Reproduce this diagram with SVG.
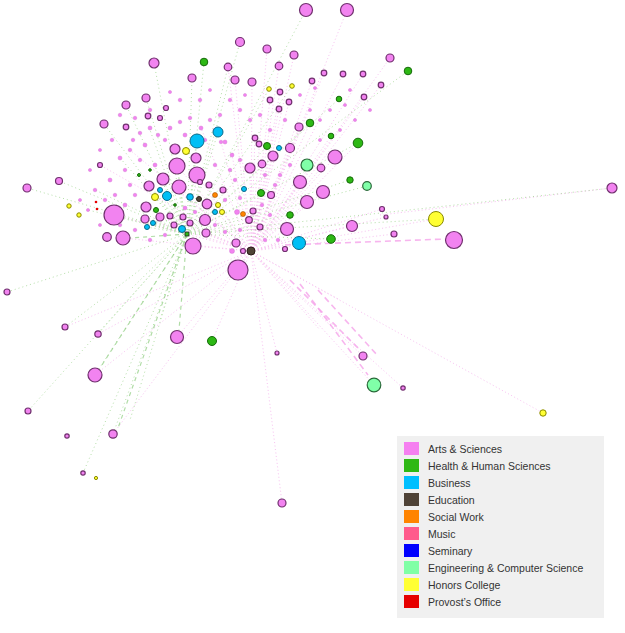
<svg xmlns="http://www.w3.org/2000/svg" width="625" height="633" viewBox="0 0 625 633">
<style>
.ep{stroke:#f49be9;stroke-width:1;stroke-dasharray:1 2.5;fill:none;opacity:0.6}
.epd{stroke:#f5a3ea;stroke-width:1.6;stroke-dasharray:6 4;fill:none;opacity:0.8}
.eg{stroke:#86cc72;stroke-width:1;stroke-dasharray:1 3;fill:none;opacity:0.6}
.egd{stroke:#7cc46a;stroke-width:1.2;stroke-dasharray:4 4;fill:none;opacity:0.6}
.a{fill:#f283f0;stroke:#70306e;stroke-width:1.2}
.t{fill:#f283f0;stroke:#d070d0;stroke-width:0.4}
.h{fill:#2db814;stroke:#166a0a;stroke-width:1}
.b{fill:#00bff5;stroke:#0a6a8a;stroke-width:1}
.e{fill:#4f4337;stroke:#2a2018;stroke-width:1}
.s{fill:#ff8400;stroke:#a05000;stroke-width:0.6}
.g{fill:#80ffa8;stroke:#2a6a3a;stroke-width:1.2}
.y{fill:#ffff33;stroke:#8a8a00;stroke-width:1}
.r{fill:#e60000}
.lt{font-family:"Liberation Sans",Arial,sans-serif;font-size:10.5px;fill:#333}
</style>
<rect width="625" height="633" fill="#fff"/>
<g id="connectors">
<g class="ep">
<line x1="251" y1="251" x2="436" y2="219"/><line x1="251" y1="251" x2="394" y2="234"/><line x1="251" y1="251" x2="386" y2="217"/><line x1="251" y1="251" x2="382" y2="209"/><line x1="251" y1="251" x2="352" y2="226"/><line x1="251" y1="251" x2="287" y2="229"/><line x1="251" y1="251" x2="307" y2="202"/><line x1="251" y1="251" x2="323" y2="192"/><line x1="251" y1="251" x2="300" y2="182"/><line x1="251" y1="251" x2="335" y2="157"/><line x1="251" y1="251" x2="321" y2="168"/><line x1="251" y1="251" x2="358" y2="143"/><line x1="251" y1="251" x2="331" y2="136"/><line x1="251" y1="251" x2="310" y2="123"/><line x1="251" y1="251" x2="299" y2="127"/><line x1="251" y1="251" x2="363" y2="74"/><line x1="251" y1="251" x2="343" y2="74"/><line x1="251" y1="251" x2="381" y2="85"/><line x1="251" y1="251" x2="390" y2="58"/><line x1="251" y1="251" x2="364" y2="97"/><line x1="251" y1="251" x2="312" y2="81"/><line x1="251" y1="251" x2="290" y2="148"/><line x1="251" y1="251" x2="273" y2="156"/><line x1="251" y1="251" x2="262" y2="164"/><line x1="251" y1="251" x2="250" y2="168"/><line x1="251" y1="251" x2="255" y2="138"/><line x1="251" y1="251" x2="279" y2="109"/><line x1="251" y1="251" x2="289" y2="102"/><line x1="380" y1="215" x2="612" y2="188"/><line x1="251" y1="251" x2="543" y2="413"/><line x1="251" y1="251" x2="403" y2="388"/><line x1="251" y1="251" x2="374" y2="385"/><line x1="251" y1="251" x2="363" y2="356"/><line x1="251" y1="251" x2="282" y2="503"/><line x1="251" y1="251" x2="277" y2="353"/><line x1="251" y1="251" x2="212" y2="341"/><line x1="251" y1="251" x2="95" y2="375"/><line x1="251" y1="251" x2="113" y2="434"/><line x1="251" y1="251" x2="177" y2="337"/><line x1="251" y1="251" x2="65" y2="327"/><line x1="251" y1="251" x2="98" y2="334"/><line x1="251" y1="251" x2="193" y2="246"/><line x1="251" y1="251" x2="205" y2="233"/><line x1="251" y1="251" x2="209" y2="194"/><line x1="251" y1="251" x2="177" y2="166"/><line x1="251" y1="251" x2="197" y2="175"/><line x1="251" y1="251" x2="179" y2="187"/><line x1="251" y1="251" x2="163" y2="179"/><line x1="251" y1="251" x2="146" y2="207"/><line x1="251" y1="251" x2="114" y2="215"/><line x1="251" y1="251" x2="123" y2="238"/><line x1="251" y1="251" x2="160" y2="217"/><line x1="251" y1="251" x2="145" y2="219"/><line x1="251" y1="251" x2="270" y2="100"/><line x1="251" y1="251" x2="280" y2="92"/><line x1="251" y1="251" x2="294" y2="55"/><line x1="251" y1="251" x2="279" y2="66"/><line x1="251" y1="251" x2="252" y2="82"/><line x1="251" y1="251" x2="235" y2="80"/><line x1="251" y1="251" x2="228" y2="67"/><line x1="251" y1="251" x2="267" y2="49"/><line x1="251" y1="251" x2="324" y2="73"/><line x1="251" y1="251" x2="347" y2="10"/><line x1="251" y1="251" x2="221" y2="142"/><line x1="251" y1="251" x2="232" y2="155"/><line x1="251" y1="251" x2="201" y2="128"/><line x1="251" y1="251" x2="100" y2="165"/><line x1="251" y1="251" x2="130" y2="150"/><line x1="251" y1="251" x2="238" y2="270"/><line x1="251" y1="251" x2="320" y2="330"/><line x1="251" y1="251" x2="340" y2="300"/><line x1="251" y1="251" x2="300" y2="300"/>
</g>
<line class="epd" x1="285" y1="245" x2="446" y2="239"/>
<line class="epd" x1="290" y1="280" x2="360" y2="350"/>
<line class="epd" x1="300" y1="284" x2="368" y2="375"/>
<line class="epd" x1="318" y1="290" x2="378" y2="356"/>
<g class="eg">
<line x1="187" y1="234" x2="114" y2="215"/><line x1="187" y1="234" x2="146" y2="207"/><line x1="187" y1="234" x2="7" y2="292"/><line x1="187" y1="234" x2="28" y2="411"/><line x1="187" y1="234" x2="65" y2="327"/><line x1="187" y1="234" x2="98" y2="334"/><line x1="187" y1="234" x2="95" y2="375"/><line x1="187" y1="234" x2="113" y2="434"/><line x1="187" y1="234" x2="83" y2="473"/><line x1="187" y1="234" x2="59" y2="181"/><line x1="187" y1="234" x2="27" y2="188"/><line x1="187" y1="234" x2="104" y2="124"/><line x1="187" y1="234" x2="126" y2="105"/><line x1="187" y1="234" x2="146" y2="98"/><line x1="187" y1="234" x2="154" y2="63"/><line x1="187" y1="234" x2="192" y2="78"/><line x1="187" y1="234" x2="204" y2="62"/><line x1="187" y1="234" x2="240" y2="42"/><line x1="187" y1="234" x2="306" y2="10"/><line x1="187" y1="234" x2="228" y2="67"/><line x1="187" y1="234" x2="261" y2="193"/><line x1="187" y1="234" x2="290" y2="215"/><line x1="187" y1="234" x2="350" y2="180"/><line x1="187" y1="234" x2="367" y2="186"/><line x1="187" y1="234" x2="612" y2="188"/><line x1="187" y1="234" x2="436" y2="219"/><line x1="187" y1="234" x2="331" y2="239"/><line x1="187" y1="234" x2="175" y2="149"/><line x1="187" y1="234" x2="196" y2="158"/><line x1="187" y1="234" x2="177" y2="166"/><line x1="187" y1="234" x2="197" y2="175"/><line x1="187" y1="234" x2="163" y2="179"/><line x1="187" y1="234" x2="149" y2="186"/><line x1="187" y1="234" x2="179" y2="187"/><line x1="187" y1="234" x2="167" y2="196"/><line x1="187" y1="234" x2="160" y2="190"/><line x1="187" y1="234" x2="218" y2="132"/><line x1="187" y1="234" x2="197" y2="141"/><line x1="187" y1="234" x2="267" y2="146"/><line x1="187" y1="234" x2="310" y2="123"/><line x1="187" y1="234" x2="358" y2="143"/><line x1="187" y1="234" x2="408" y2="71"/><line x1="187" y1="234" x2="339" y2="99"/><line x1="187" y1="234" x2="292" y2="86"/><line x1="187" y1="234" x2="269" y2="89"/><line x1="187" y1="234" x2="150" y2="130"/><line x1="187" y1="234" x2="120" y2="158"/><line x1="187" y1="234" x2="95" y2="190"/><line x1="187" y1="234" x2="88" y2="210"/><line x1="187" y1="234" x2="145" y2="219"/><line x1="187" y1="234" x2="160" y2="217"/><line x1="187" y1="234" x2="153" y2="223"/><line x1="187" y1="234" x2="147" y2="227"/><line x1="187" y1="234" x2="155" y2="197"/><line x1="187" y1="234" x2="130" y2="290"/><line x1="187" y1="234" x2="160" y2="320"/><line x1="187" y1="234" x2="130" y2="420"/>
</g>
<line class="egd" x1="187" y1="234" x2="130" y2="238"/>
<line class="egd" x1="187" y1="234" x2="179" y2="330"/>
<line class="egd" x1="187" y1="234" x2="100" y2="368"/>
<line class="egd" x1="187" y1="234" x2="118" y2="428"/>
</g>
<g id="minor-nodes">
<circle class="t" cx="133" cy="140" r="1.8"/><circle class="t" cx="140" cy="133" r="1.8"/><circle class="t" cx="150" cy="128" r="2"/><circle class="t" cx="158" cy="135" r="1.8"/><circle class="t" cx="170" cy="128" r="2"/><circle class="t" cx="180" cy="122" r="1.8"/><circle class="t" cx="190" cy="118" r="1.8"/><circle class="t" cx="201" cy="128" r="2"/><circle class="t" cx="210" cy="120" r="1.8"/><circle class="t" cx="220" cy="115" r="1.8"/><circle class="t" cx="215" cy="130" r="1.8"/><circle class="t" cx="225" cy="142" r="2"/><circle class="t" cx="205" cy="140" r="1.8"/><circle class="t" cx="185" cy="135" r="2"/><circle class="t" cx="165" cy="140" r="1.8"/><circle class="t" cx="145" cy="145" r="2"/><circle class="t" cx="130" cy="150" r="1.8"/><circle class="t" cx="120" cy="158" r="2"/><circle class="t" cx="140" cy="160" r="1.8"/><circle class="t" cx="155" cy="165" r="2"/><circle class="t" cx="125" cy="170" r="1.8"/><circle class="t" cx="110" cy="180" r="2"/><circle class="t" cx="130" cy="185" r="1.8"/><circle class="t" cx="115" cy="195" r="1.8"/><circle class="t" cx="105" cy="200" r="1.8"/><circle class="t" cx="125" cy="205" r="2"/><circle class="t" cx="135" cy="195" r="1.8"/><circle class="t" cx="95" cy="190" r="1.8"/><circle class="t" cx="88" cy="210" r="1.6"/><circle class="t" cx="100" cy="225" r="1.6"/><circle class="t" cx="120" cy="225" r="1.8"/><circle class="t" cx="135" cy="230" r="1.8"/><circle class="t" cx="150" cy="240" r="1.8"/><circle class="t" cx="165" cy="235" r="1.8"/><circle class="t" cx="230" cy="100" r="1.8"/><circle class="t" cx="240" cy="110" r="1.8"/><circle class="t" cx="250" cy="120" r="1.8"/><circle class="t" cx="260" cy="115" r="1.8"/><circle class="t" cx="245" cy="95" r="1.6"/><circle class="t" cx="300" cy="95" r="1.6"/><circle class="t" cx="310" cy="110" r="1.6"/><circle class="t" cx="320" cy="120" r="1.6"/><circle class="t" cx="330" cy="110" r="1.6"/><circle class="t" cx="345" cy="105" r="1.6"/><circle class="t" cx="355" cy="120" r="1.6"/><circle class="t" cx="340" cy="130" r="1.6"/><circle class="t" cx="320" cy="140" r="1.6"/><circle class="t" cx="315" cy="88" r="1.6"/><circle class="t" cx="350" cy="90" r="1.6"/><circle class="t" cx="370" cy="110" r="1.6"/><circle class="t" cx="285" cy="120" r="1.8"/><circle class="t" cx="270" cy="130" r="1.8"/><circle class="t" cx="240" cy="160" r="1.8"/><circle class="t" cx="230" cy="170" r="1.8"/><circle class="t" cx="232" cy="155" r="2"/><circle class="t" cx="215" cy="165" r="1.8"/><circle class="t" cx="280" cy="175" r="1.8"/><circle class="t" cx="290" cy="165" r="1.8"/><circle class="t" cx="275" cy="185" r="1.8"/><circle class="t" cx="265" cy="175" r="1.8"/><circle class="t" cx="235" cy="180" r="1.8"/><circle class="t" cx="240" cy="198" r="1.8"/><circle class="t" cx="225" cy="200" r="1.8"/><circle class="t" cx="262" cy="205" r="1.8"/><circle class="t" cx="270" cy="215" r="1.8"/><circle class="t" cx="278" cy="240" r="1.8"/><circle class="t" cx="265" cy="240" r="1.8"/><circle class="t" cx="200" cy="100" r="1.8"/><circle class="t" cx="180" cy="100" r="1.8"/><circle class="t" cx="170" cy="92" r="1.6"/><circle class="t" cx="210" cy="90" r="1.6"/><circle class="t" cx="120" cy="115" r="1.8"/><circle class="t" cx="112" cy="140" r="1.8"/><circle class="t" cx="100" cy="150" r="1.6"/><circle class="t" cx="90" cy="170" r="1.6"/><circle class="t" cx="80" cy="200" r="1.6"/><circle class="t" cx="150" cy="110" r="1.8"/><circle class="t" cx="135" cy="118" r="1.8"/><circle class="t" cx="221" cy="142" r="1.8"/><circle class="t" cx="200" cy="182" r="2.2"/><circle class="t" cx="223" cy="190" r="2.5"/><circle class="t" cx="232" cy="251" r="2.5"/><circle class="t" cx="237" cy="212" r="2.5"/><circle class="t" cx="185" cy="208" r="2"/><circle class="t" cx="195" cy="212" r="1.8"/><circle class="t" cx="215" cy="225" r="1.8"/><circle class="t" cx="225" cy="232" r="1.8"/><circle class="t" cx="240" cy="230" r="1.8"/>
<circle class="h" cx="139" cy="175" r="1.5"/><circle class="h" cx="150" cy="170" r="1.3"/><circle class="h" cx="118" cy="212" r="1.3"/><circle class="h" cx="175" cy="205" r="1.3"/>
<circle class="r" cx="96" cy="202" r="1.3"/><circle class="r" cx="97" cy="209" r="1.3"/>
</g>
<g id="nodes">
<g id="n1"><circle class="a" cx="306" cy="10" r="6.5"/></g>
<g id="n2"><circle class="a" cx="347" cy="10" r="6.5"/></g>
<g id="n3"><circle class="a" cx="240" cy="42" r="4.5"/></g>
<g id="n4"><circle class="a" cx="154" cy="63" r="5"/></g>
<g id="n5"><circle class="a" cx="267" cy="49" r="4"/></g>
<g id="n6"><circle class="a" cx="294" cy="55" r="4"/></g>
<g id="n7"><circle class="a" cx="390" cy="58" r="4"/></g>
<g id="n8"><circle class="a" cx="228" cy="67" r="3.8"/></g>
<g id="n9"><circle class="a" cx="279" cy="66" r="3.8"/></g>
<g id="n10"><circle class="a" cx="192" cy="78" r="4"/></g>
<g id="n11"><circle class="a" cx="235" cy="80" r="4"/></g>
<g id="n12"><circle class="a" cx="252" cy="82" r="4"/></g>
<g id="n13"><circle class="a" cx="324" cy="73" r="2.8"/></g>
<g id="n14"><circle class="a" cx="343" cy="74" r="2.8"/></g>
<g id="n15"><circle class="a" cx="363" cy="74" r="2.8"/></g>
<g id="n16"><circle class="a" cx="312" cy="81" r="2.8"/></g>
<g id="n17"><circle class="a" cx="381" cy="85" r="2.8"/></g>
<g id="n18"><circle class="a" cx="280" cy="92" r="2.8"/></g>
<g id="n19"><circle class="a" cx="270" cy="100" r="2.8"/></g>
<g id="n20"><circle class="a" cx="289" cy="102" r="2.8"/></g>
<g id="n21"><circle class="a" cx="364" cy="97" r="2.8"/></g>
<g id="n22"><circle class="a" cx="279" cy="109" r="2.8"/></g>
<g id="n23"><circle class="a" cx="146" cy="98" r="4"/></g>
<g id="n24"><circle class="a" cx="126" cy="105" r="4"/></g>
<g id="n25"><circle class="a" cx="104" cy="124" r="4"/></g>
<g id="n26"><circle class="a" cx="126" cy="127" r="2.8"/></g>
<g id="n27"><circle class="a" cx="148" cy="116" r="2.8"/></g>
<g id="n28"><circle class="a" cx="160" cy="118" r="2.5"/></g>
<g id="n29"><circle class="a" cx="166" cy="108" r="2.5"/></g>
<g id="n30"><circle class="a" cx="299" cy="127" r="4"/></g>
<g id="n31"><circle class="a" cx="255" cy="138" r="2.8"/></g>
<g id="n32"><circle class="a" cx="259" cy="144" r="2.8"/></g>
<g id="n33"><circle class="a" cx="290" cy="148" r="4.5"/></g>
<g id="n34"><circle class="a" cx="273" cy="156" r="5"/></g>
<g id="n35"><circle class="a" cx="335" cy="157" r="7"/></g>
<g id="n36"><circle class="a" cx="262" cy="164" r="3.8"/></g>
<g id="n37"><circle class="a" cx="321" cy="168" r="3.8"/></g>
<g id="n38"><circle class="a" cx="250" cy="168" r="5"/></g>
<g id="n39"><circle class="a" cx="300" cy="182" r="6.5"/></g>
<g id="n40"><circle class="a" cx="323" cy="192" r="6.5"/></g>
<g id="n41"><circle class="a" cx="307" cy="202" r="6.5"/></g>
<g id="n42"><circle class="a" cx="287" cy="229" r="6.5"/></g>
<g id="n43"><circle class="a" cx="271" cy="195" r="3.5"/></g>
<g id="n44"><circle class="a" cx="253" cy="211" r="3"/></g>
<g id="n45"><circle class="a" cx="260" cy="227" r="3"/></g>
<g id="n46"><circle class="a" cx="352" cy="226" r="5.5"/></g>
<g id="n47"><circle class="a" cx="382" cy="209" r="2.5"/></g>
<g id="n48"><circle class="a" cx="386" cy="217" r="2"/></g>
<g id="n49"><circle class="a" cx="394" cy="234" r="3"/></g>
<g id="n50"><circle class="a" cx="454" cy="240" r="8.5"/></g>
<g id="n51"><circle class="a" cx="285" cy="249" r="2.5"/></g>
<g id="n52"><circle class="a" cx="612" cy="188" r="5"/></g>
<g id="n53"><circle class="a" cx="175" cy="149" r="5"/></g>
<g id="n54"><circle class="a" cx="196" cy="158" r="5"/></g>
<g id="n55"><circle class="a" cx="177" cy="166" r="8"/></g>
<g id="n56"><circle class="a" cx="197" cy="175" r="8"/></g>
<g id="n57"><circle class="a" cx="163" cy="179" r="6"/></g>
<g id="n58"><circle class="a" cx="149" cy="186" r="5"/></g>
<g id="n59"><circle class="a" cx="179" cy="187" r="7"/></g>
<g id="n60"><circle class="a" cx="209" cy="185" r="3"/></g>
<g id="n61"><circle class="a" cx="207" cy="204" r="4.8"/></g>
<g id="n62"><circle class="a" cx="146" cy="207" r="5"/></g>
<g id="n63"><circle class="a" cx="114" cy="215" r="10"/></g>
<g id="n64"><circle class="a" cx="160" cy="217" r="4"/></g>
<g id="n65"><circle class="a" cx="170" cy="216" r="3"/></g>
<g id="n66"><circle class="a" cx="145" cy="219" r="4"/></g>
<g id="n67"><circle class="a" cx="205" cy="220" r="5.5"/></g>
<g id="n68"><circle class="a" cx="183" cy="217" r="3"/></g>
<g id="n69"><circle class="a" cx="174" cy="225" r="3"/></g>
<g id="n70"><circle class="a" cx="190" cy="223" r="3"/></g>
<g id="n71"><circle class="a" cx="107" cy="237" r="4.3"/></g>
<g id="n72"><circle class="a" cx="123" cy="238" r="7"/></g>
<g id="n73"><circle class="a" cx="206" cy="233" r="4"/></g>
<g id="n74"><circle class="a" cx="193" cy="246" r="8"/></g>
<g id="n75"><circle class="a" cx="249" cy="220" r="3.3"/></g>
<g id="n76"><circle class="a" cx="236" cy="243" r="4"/></g>
<g id="n77"><circle class="a" cx="238" cy="270" r="10"/></g>
<g id="n78"><circle class="a" cx="27" cy="188" r="4"/></g>
<g id="n79"><circle class="a" cx="59" cy="181" r="3.5"/></g>
<g id="n80"><circle class="a" cx="100" cy="165" r="2.5"/></g>
<g id="n81"><circle class="a" cx="7" cy="292" r="3"/></g>
<g id="n82"><circle class="a" cx="65" cy="327" r="3"/></g>
<g id="n83"><circle class="a" cx="98" cy="334" r="3.2"/></g>
<g id="n84"><circle class="a" cx="177" cy="337" r="6.5"/></g>
<g id="n85"><circle class="a" cx="277" cy="353" r="2"/></g>
<g id="n86"><circle class="a" cx="95" cy="375" r="7"/></g>
<g id="n87"><circle class="a" cx="28" cy="411" r="3"/></g>
<g id="n88"><circle class="a" cx="67" cy="436" r="2.2"/></g>
<g id="n89"><circle class="a" cx="113" cy="434" r="4.2"/></g>
<g id="n90"><circle class="a" cx="83" cy="473" r="2.2"/></g>
<g id="n91"><circle class="a" cx="282" cy="503" r="4"/></g>
<g id="n92"><circle class="a" cx="363" cy="356" r="4"/></g>
<g id="n93"><circle class="a" cx="403" cy="388" r="2.2"/></g>
<g id="n94"><circle class="a" cx="223" cy="190" r="3"/></g>
<g id="n95"><circle class="a" cx="200" cy="182" r="2.5"/></g>
<g id="n96"><circle class="a" cx="243" cy="251" r="2.5"/></g>
<g id="h1"><circle class="h" cx="204" cy="62" r="3.8"/></g>
<g id="h2"><circle class="h" cx="408" cy="71" r="3.8"/></g>
<g id="h3"><circle class="h" cx="339" cy="99" r="2.8"/></g>
<g id="h4"><circle class="h" cx="310" cy="123" r="3.8"/></g>
<g id="h5"><circle class="h" cx="331" cy="136" r="2.8"/></g>
<g id="h6"><circle class="h" cx="358" cy="143" r="4.8"/></g>
<g id="h7"><circle class="h" cx="267" cy="146" r="3.5"/></g>
<g id="h8"><circle class="h" cx="350" cy="180" r="3.2"/></g>
<g id="h9"><circle class="h" cx="261" cy="193" r="3.5"/></g>
<g id="h10"><circle class="h" cx="290" cy="215" r="3.3"/></g>
<g id="h11"><circle class="h" cx="331" cy="239" r="4.3"/></g>
<g id="h12"><circle class="h" cx="212" cy="341" r="4.5"/></g>
<g id="h13"><circle class="h" cx="156" cy="210" r="2.5"/></g>
<g id="b1"><circle class="b" cx="197" cy="141" r="7"/></g>
<g id="b2"><circle class="b" cx="218" cy="132" r="5"/></g>
<g id="b3"><circle class="b" cx="279" cy="148" r="2.5"/></g>
<g id="b4"><circle class="b" cx="167" cy="196" r="4.5"/></g>
<g id="b5"><circle class="b" cx="160" cy="190" r="2.5"/></g>
<g id="b6"><circle class="b" cx="190" cy="197" r="3.3"/></g>
<g id="b7"><circle class="b" cx="244" cy="189" r="2.5"/></g>
<g id="b8"><circle class="b" cx="215" cy="212" r="2.5"/></g>
<g id="b9"><circle class="b" cx="153" cy="223" r="2.5"/></g>
<g id="b10"><circle class="b" cx="147" cy="227" r="2.5"/></g>
<g id="b11"><circle class="b" cx="182" cy="229" r="3.5"/></g>
<g id="b12"><circle class="b" cx="299" cy="243" r="6.5"/></g>
<g id="y1"><circle class="y" cx="269" cy="89" r="2.3"/></g>
<g id="y2"><circle class="y" cx="292" cy="86" r="2.3"/></g>
<g id="y3"><circle class="y" cx="186" cy="151" r="3.5"/></g>
<g id="y4"><circle class="y" cx="155" cy="197" r="3.5"/></g>
<g id="y5"><circle class="y" cx="218" cy="205" r="2.5"/></g>
<g id="y6"><circle class="y" cx="222" cy="212" r="2.5"/></g>
<g id="y7"><circle class="y" cx="69" cy="206" r="2.2"/></g>
<g id="y8"><circle class="y" cx="79" cy="215" r="2.2"/></g>
<g id="y9"><circle class="y" cx="436" cy="219" r="7.5"/></g>
<g id="y10"><circle class="y" cx="543" cy="413" r="3.2"/></g>
<g id="y11"><circle class="y" cx="96" cy="478" r="1.6"/></g>
<g id="g1"><circle class="g" cx="307" cy="165" r="6"/></g>
<g id="g2"><circle class="g" cx="367" cy="186" r="4.3"/></g>
<g id="g3"><circle class="g" cx="374" cy="385" r="6.8"/></g>
<g id="s1"><circle class="s" cx="215" cy="195" r="2.5"/></g>
<g id="s2"><circle class="s" cx="243" cy="214" r="2.5"/></g>
<g id="e1"><circle class="e" cx="199" cy="199" r="2.5"/></g>
<g id="e2"><circle class="e" cx="251" cy="251" r="4"/></g>
<g id="hubA"><rect x="185" y="232" width="4" height="4" fill="#2db814" stroke="#222" stroke-width="0.8"/></g>
</g>
<g id="legend">
<rect x="397" y="436" width="207" height="182" fill="#f0f0f0"/>
<rect x="404" y="442" width="15" height="13" fill="#f57ff0"/>
<rect x="404" y="459" width="15" height="13" fill="#2eb814"/>
<rect x="404" y="476" width="15" height="13" fill="#00bfff"/>
<rect x="404" y="493" width="15" height="13" fill="#4f4337"/>
<rect x="404" y="510" width="15" height="13" fill="#ff8400"/>
<rect x="404" y="527" width="15" height="13" fill="#ff5a8c"/>
<rect x="404" y="544" width="15" height="13" fill="#0000ff"/>
<rect x="404" y="561" width="15" height="13" fill="#80ffa6"/>
<rect x="404" y="578" width="15" height="13" fill="#ffff33"/>
<rect x="404" y="595" width="15" height="13" fill="#e60000"/>
<text class="lt" x="428" y="452.5">Arts &amp; Sciences</text>
<text class="lt" x="428" y="469.5">Health &amp; Human Sciences</text>
<text class="lt" x="428" y="486.5">Business</text>
<text class="lt" x="428" y="503.5">Education</text>
<text class="lt" x="428" y="520.5">Social Work</text>
<text class="lt" x="428" y="537.5">Music</text>
<text class="lt" x="428" y="554.5">Seminary</text>
<text class="lt" x="428" y="571.5">Engineering &amp; Computer Science</text>
<text class="lt" x="428" y="588.5">Honors College</text>
<text class="lt" x="428" y="605.5">Provost’s Office</text>
</g>
</svg>
